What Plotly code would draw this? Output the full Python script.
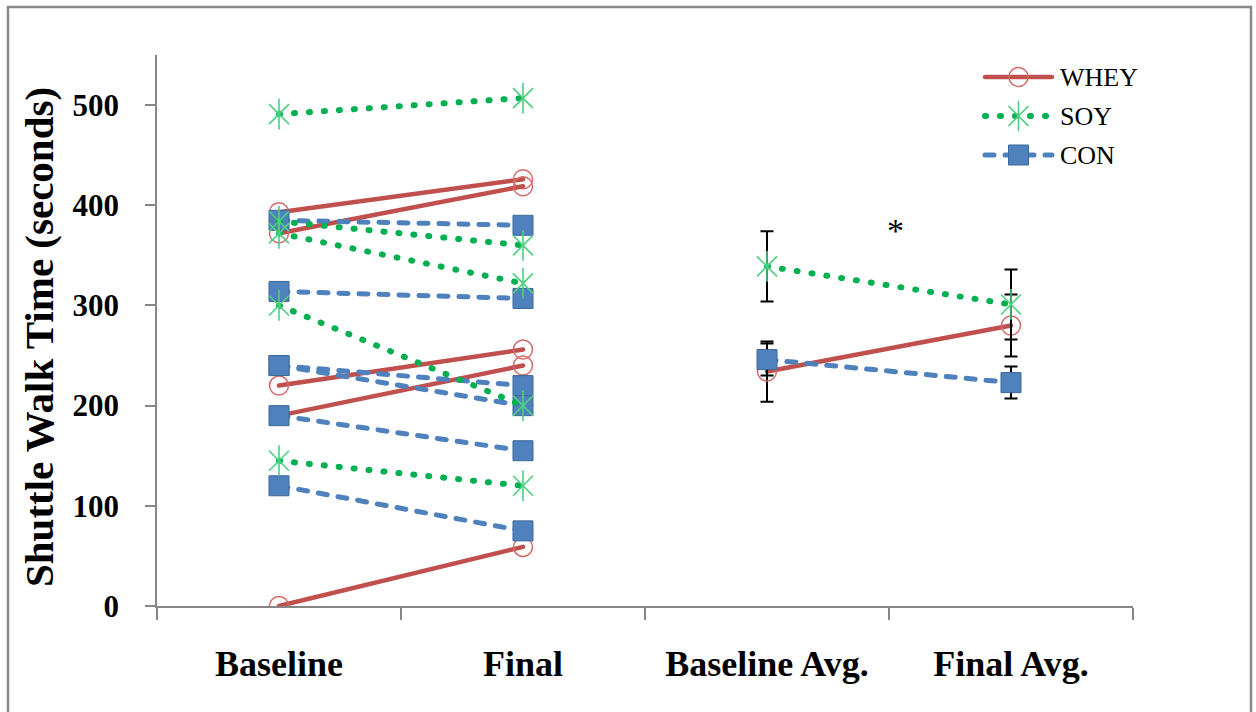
import plotly.graph_objects as go

# ---- data -------------------------------------------------------------
CATEGORIES = ["Baseline", "Final", "Baseline Avg.", "Final Avg."]
Y_TICKS = [0, 100, 200, 300, 400, 500]

# individual subjects (seconds), baseline -> final
WHEY_BASELINE = [393, 372, 220, 190, 0]
WHEY_FINAL = [426, 419, 256, 240, 59]
SOY_BASELINE = [491, 384, 372, 300, 145]
SOY_FINAL = [507, 360, 322, 200, 120]
CON_BASELINE = [385, 314, 240, 240, 190, 120]
CON_FINAL = [380, 307, 220, 200, 155, 75]

# group means with error bars
WHEY_AVG = [234, 280]
WHEY_ERR = [30, 31]
SOY_AVG = [339, 301]
SOY_ERR = [35, 35]
CON_AVG = [246, 223]
CON_ERR = [16, 16]

# ---- styles -----------------------------------------------------------
SERIF = "Liberation Serif"
AXIS_GREY = "#868686"
RED, RED_EDGE = "#C0504D", "#D46A6A"
GREEN, GREEN_MARK = "#00B050", "#4FD07F"
BLUE, BLUE_EDGE = "#4F81BD", "#3C679A"

STYLES = {
    "WHEY": dict(line=dict(color=RED, width=4.5),
                 marker=dict(symbol="circle-open", size=19,
                             color=RED_EDGE, line=dict(color=RED_EDGE, width=1.5))),
    "SOY": dict(line=dict(color=GREEN, width=6, dash="1px,14px"),
                marker=dict(symbol="x-thin-open", size=20,
                            color=GREEN_MARK, line=dict(color=GREEN_MARK, width=1.6))),
    "CON": dict(line=dict(color=BLUE, width=5, dash="9px,11px"),
                marker=dict(symbol="square", size=20,
                            color=BLUE, line=dict(color=BLUE_EDGE, width=1))),
}
# extra vertical stroke that completes the SOY star marker
SOY_STROKE = dict(symbol="line-ns-open", size=22, color=GREEN_MARK,
                  line=dict(color=GREEN_MARK, width=1.6))

fig = go.Figure()


def add_pair(name, xs, ys, err=None):
    st = STYLES[name]
    fig.add_trace(go.Scatter(
        x=xs, y=ys, mode="lines+markers", showlegend=False,
        line=st["line"], marker=st["marker"], hoverinfo="skip",
        error_y=None if err is None else dict(
            type="data", array=err, color="black", thickness=2, width=6.5),
    ))
    if name == "SOY":
        fig.add_trace(go.Scatter(x=xs, y=ys, mode="markers", showlegend=False,
                                 marker=SOY_STROKE, hoverinfo="skip"))


groups = [
    ("WHEY", WHEY_BASELINE, WHEY_FINAL, WHEY_AVG, WHEY_ERR),
    ("CON", CON_BASELINE, CON_FINAL, CON_AVG, CON_ERR),
    ("SOY", SOY_BASELINE, SOY_FINAL, SOY_AVG, SOY_ERR),
]

for name, base, final, _, _ in groups:
    for b, f in zip(base, final):
        add_pair(name, CATEGORIES[:2], [b, f])

for name, _, _, avg, err in groups:
    add_pair(name, CATEGORIES[2:], avg, err)

# ---- legend drawn on a pixel-scaled overlay axis -----------------------
PLOT_L, PLOT_R, PLOT_T, PLOT_B = 157, 1133, 55, 606
LEGEND_ROWS = {"WHEY": 77, "SOY": 116, "CON": 155}
LEGEND_X0, LEGEND_X1, LEGEND_TEXT_X = 985, 1052, 1058

for name, ypix in LEGEND_ROWS.items():
    st = STYLES[name]
    xm = (LEGEND_X0 + LEGEND_X1) / 2
    fig.add_trace(go.Scatter(
        x=[LEGEND_X0, LEGEND_X1], y=[ypix, ypix], mode="lines",
        line=st["line"], xaxis="x2", yaxis="y2", showlegend=False, hoverinfo="skip"))
    fig.add_trace(go.Scatter(
        x=[xm], y=[ypix], mode="markers", marker=st["marker"],
        xaxis="x2", yaxis="y2", showlegend=False, hoverinfo="skip"))
    if name == "SOY":
        fig.add_trace(go.Scatter(x=[xm], y=[ypix], mode="markers", marker=SOY_STROKE,
                                 xaxis="x2", yaxis="y2", showlegend=False, hoverinfo="skip"))
    fig.add_annotation(x=LEGEND_TEXT_X, y=ypix, xref="x2", yref="y2", text=name,
                       showarrow=False, xanchor="left", yanchor="middle",
                       font=dict(family=SERIF, size=26, color="black"))

W, H = 1256, 712
fig.update_layout(
    width=W, height=H,
    margin=dict(l=PLOT_L, r=W - PLOT_R, t=PLOT_T, b=H - PLOT_B),
    paper_bgcolor="white", plot_bgcolor="white",
    showlegend=False,
    font=dict(family=SERIF),
    xaxis=dict(type="category", categoryorder="array", categoryarray=CATEGORIES,
               range=[-0.5, 3.5], tickson="boundaries", ticks="outside", ticklen=12,
               tickcolor=AXIS_GREY, tickwidth=1.5, showline=True, linecolor=AXIS_GREY,
               linewidth=1.5, showgrid=False, zeroline=False, ticklabelstandoff=25,
               tickfont=dict(family=SERIF, size=36, color="black", weight="bold")),
    yaxis=dict(range=[0, 550], tickvals=Y_TICKS, ticks="outside", ticklen=10,
               tickcolor=AXIS_GREY, tickwidth=1.5, showline=True, linecolor=AXIS_GREY,
               linewidth=1.5, showgrid=False, zeroline=False, ticklabelstandoff=20,
               tickfont=dict(family=SERIF, size=31, color="black", weight="bold")),
    xaxis2=dict(overlaying="x", range=[PLOT_L, PLOT_R], visible=False),
    yaxis2=dict(overlaying="y", range=[PLOT_B, PLOT_T], visible=False),
)

# y-axis title
fig.add_annotation(x=(39 - PLOT_L) / (PLOT_R - PLOT_L), y=(PLOT_B - 337) / (PLOT_B - PLOT_T),
                   xref="paper", yref="paper", text="Shuttle Walk Time (seconds)",
                   textangle=-90, showarrow=False, xanchor="center", yanchor="middle",
                   font=dict(family=SERIF, size=41, color="black", weight="bold"))

# significance marker between the averages
fig.add_annotation(x=(895 - PLOT_L) / (PLOT_R - PLOT_L), y=(PLOT_B - 230) / (PLOT_B - PLOT_T),
                   xref="paper", yref="paper", text="*", showarrow=False,
                   xanchor="center", yanchor="middle",
                   font=dict(family=SERIF, size=34, color="black"))

# chart-area border
pw, ph = PLOT_R - PLOT_L, PLOT_B - PLOT_T
fig.add_shape(type="rect", xref="paper", yref="paper",
              x0=(8 - PLOT_L) / pw, x1=(1251 - PLOT_L) / pw,
              y0=(PLOT_B - 740) / ph, y1=(PLOT_B - 7) / ph,
              line=dict(color="#8A8A8A", width=2.5), fillcolor="rgba(0,0,0,0)", layer="below")

ROUND_CAPS = """
var gd = document.getElementById('{plot_id}');
function roundCaps() {
  gd.querySelectorAll('path.js-line').forEach(function (p) {
    p.style.strokeLinecap = 'round';
  });
}
roundCaps();
setTimeout(roundCaps, 50);
gd.on('plotly_afterplot', roundCaps);
"""

fig.write_html("out.html", post_script=ROUND_CAPS)
